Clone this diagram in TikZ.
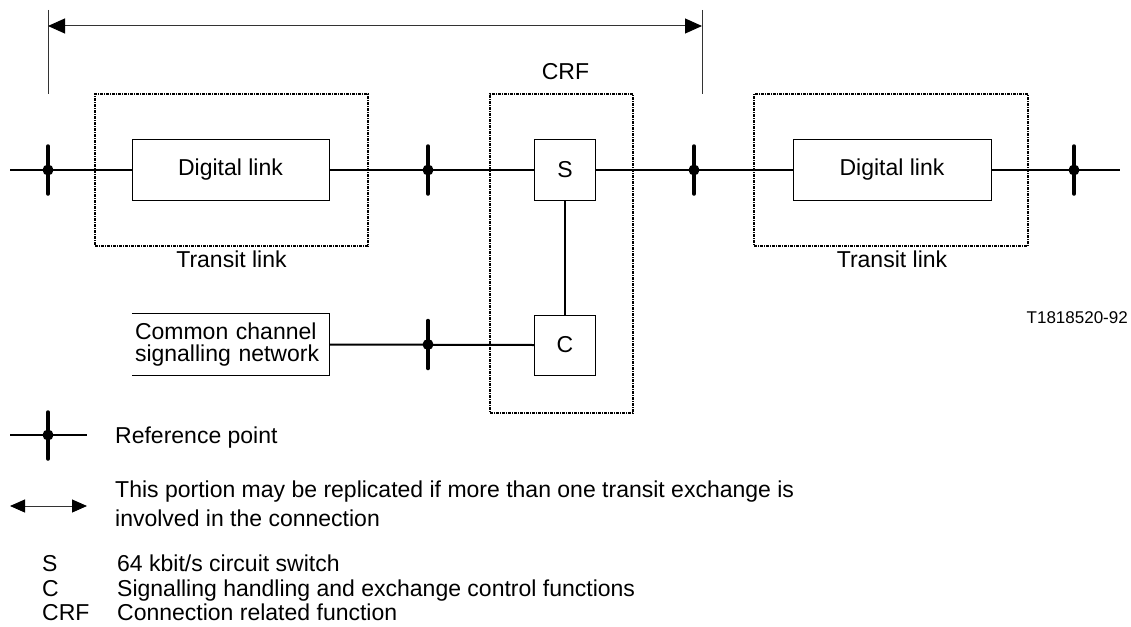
\documentclass[tikz,border=0pt]{standalone}
\usepackage{fontspec}
\setmainfont{Liberation Sans}
\usetikzlibrary{arrows.meta}
\begin{document}
\begin{tikzpicture}[x=1pt,y=-1pt,
  box/.style={draw,line width=1pt,inner sep=0pt,font=\fontsize{23}{27}\selectfont},
  grp/.style={draw,line width=1.2pt,dash pattern=on 3pt off 1pt on 1pt off 1pt,inner sep=0pt},
  conn/.style={line width=2pt},
  tickmark/.style={line width=3.5pt,line cap=round},
  lbl/.style={font=\fontsize{23}{27}\selectfont,inner sep=0pt},
  small/.style={font=\fontsize{17}{20}\selectfont,inner sep=0pt},
  dim/.style={line width=1pt,draw=black!80},
  tri/.tip={Triangle[length=17pt,width=15pt,color=black]},
  trism/.tip={Triangle[length=15pt,width=13pt,color=black]},
]
\useasboundingbox (0,0) rectangle (1131,626);

% main boxes
\node[box,minimum width=197pt,minimum height=61pt] (dlL) at (230.5,170) {Digital link};
\node[box,minimum width=61pt,minimum height=61pt] (S) at (565,170) {S};
\node[box,minimum width=198pt,minimum height=61pt] (dlR) at (892,170) {Digital link};
\node[box,minimum width=61pt,minimum height=60pt] (C) at (565,345) {C};
\node[lbl,minimum width=197pt,minimum height=61pt,text width=191pt,inner xsep=3pt,align=left,
      font=\fontsize{23}{22}\selectfont] (ccs) at (230.5,344.5) {Common channel\\signalling network};
\draw[line width=1pt] (ccs.north west) -- (ccs.north east) -- (ccs.south east) -- (ccs.south west);

% free ends
\coordinate (a0) at (10,170);
\coordinate (a9) at (1120,170);

% connectors
\draw[conn] (a0) -- (dlL.west);
\draw[conn] (dlL.east) -- (S.west);
\draw[conn] (S.east) -- (dlR.west);
\draw[conn] (dlR.east) -- (a9);
\draw[conn] (ccs.east) -- (C.west);
\draw[line width=1.3pt] (S.south) -- (C.north);

% group boxes
\node[grp,minimum width=273pt,minimum height=152pt] (gL) at (231.5,170) {};
\node[grp,minimum width=143pt,minimum height=319pt] (gC) at (561.5,253.5) {};
\node[grp,minimum width=274pt,minimum height=152pt] (gR) at (891,170) {};
\node[lbl,anchor=base] (tlL) at (231.5,267) {Transit link};
\node[lbl,anchor=base] (tlR) at (892,267) {Transit link};
\node[lbl,anchor=base] (crf) at (565.5,79) {CRF};

% reference points
\foreach \x/\y in {48/170,428/170,694/170,1074/170,428/344.5}{
  \draw[tickmark] (\x,\y-24) -- (\x,\y+24);
  \fill (\x,\y) circle (5.5pt);
}

% dimension arrow
\coordinate (dl) at (48,26);
\coordinate (dr) at (702,26);
\draw[dim] (48,10) -- (48,94);
\draw[dim] (702,10) -- (702,94);
\draw[dim,tri-tri] (dl) -- (dr);

\node[small,anchor=base east] (tn) at (1128,323) {T1818520-92};

% legend
\coordinate (r0) at (10,435);
\coordinate (r1) at (87,435);
\draw[conn] (r0) -- (r1);
\draw[tickmark] (48,412) -- (48,459);
\fill (48,435) circle (5.5pt);
\node[lbl,anchor=base west] (lr) at (115,443) {Reference point};

\coordinate (d0) at (10,506);
\coordinate (d1) at (87,506);
\draw[dim,trism-trism] (d0) -- (d1);
\node[lbl,anchor=base west] (lp1) at (115,497) {This portion may be replicated if more than one transit exchange is};
\node[lbl,anchor=base west] (lp2) at (115,526) {involved in the connection};

\node[lbl,anchor=base west] (kS) at (42,571) {S};
\node[lbl,anchor=base west] (kC) at (42,596) {C};
\node[lbl,anchor=base west] (kCRF) at (42,620) {CRF};
\node[lbl,anchor=base west] (vS) at (117,571) {64 kbit/s circuit switch};
\node[lbl,anchor=base west] (vC) at (117,596) {Signalling handling and exchange control functions};
\node[lbl,anchor=base west] (vCRF) at (117,620) {Connection related function};
\end{tikzpicture}
\end{document}
